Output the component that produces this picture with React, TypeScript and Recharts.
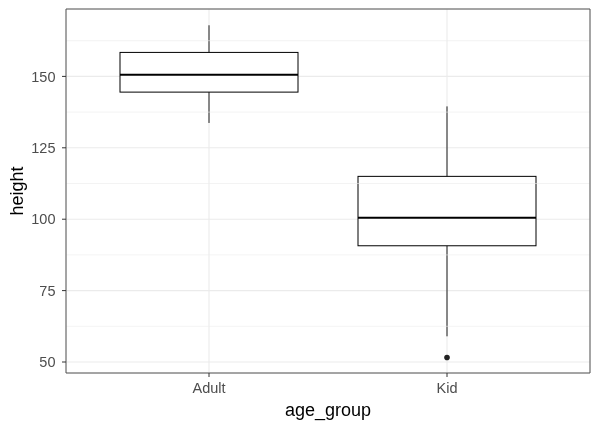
import { ComposedChart, Bar, XAxis, YAxis, CartesianGrid, ReferenceLine, Label } from 'recharts'

// box statistics per age group
const categories = ['Adult', 'Kid']
const lowerWhisker = [133.7, 59.0]
const q1 = [144.5, 90.7]
const median = [150.6, 100.5]
const q3 = [158.4, 115.0]
const upperWhisker = [167.9, 139.5]
const outliers: number[][] = [[], [51.6]]

const yTicks = [50, 75, 100, 125, 150]
const yMinor = [62.5, 87.5, 112.5, 137.5, 162.5]
const yDomain = [46.15, 173.6]

const data = categories.map((c, i) => {
  const lo = Math.min(lowerWhisker[i], ...outliers[i])
  const hi = Math.max(upperWhisker[i], ...outliers[i])
  return {
    age_group: c,
    range: [lo, hi],
    lo,
    hi,
    lower: lowerWhisker[i],
    q1: q1[i],
    median: median[i],
    q3: q3[i],
    upper: upperWhisker[i],
    outliers: outliers[i],
  }
})

const BoxShape = (props: any) => {
  const { x, y, width, height, payload } = props
  const top = Math.min(y, y + height)
  const bottom = Math.max(y, y + height)
  const { lo, hi } = payload
  // map a value into pixels using the bar's own scaled extent
  const py = (v: number) => bottom - ((v - lo) / (hi - lo)) * (bottom - top)
  const cx = x + width / 2
  return (
    <g>
      <line x1={cx} x2={cx} y1={py(payload.q3)} y2={py(payload.upper)} stroke="#1a1a1a" strokeWidth={1} />
      <line x1={cx} x2={cx} y1={py(payload.q1)} y2={py(payload.lower)} stroke="#1a1a1a" strokeWidth={1} />
      <rect
        x={x}
        y={py(payload.q3)}
        width={width}
        height={py(payload.q1) - py(payload.q3)}
        fill="#fff"
        stroke="#000"
        strokeWidth={1}
      />
      <line x1={x} x2={x + width} y1={py(payload.median)} y2={py(payload.median)} stroke="#000" strokeWidth={2} />
      {payload.outliers.map((o: number, i: number) => (
        <circle key={i} cx={cx} cy={py(o)} r={2.8} fill="#222" />
      ))}
    </g>
  )
}

const YTitle = (props: any) => {
  const { viewBox } = props
  const cx = viewBox.x + 17
  const cy = viewBox.y + viewBox.height / 2
  return (
    <text
      x={cx}
      y={cy}
      transform={`rotate(-90, ${cx}, ${cy})`}
      textAnchor="middle"
      dominantBaseline="central"
      fill="#000"
      fontSize={18}
    >
      height
    </text>
  )
}

const tickStyle = { fill: '#4D4D4D', fontSize: 14.5 }
const border = { stroke: '#555', strokeWidth: 1 }

export default function App() {
  return (
    <div style={{ position: 'fixed', left: 0, top: 0, fontFamily: '"Liberation Sans", Arial, sans-serif' }}>
      <ComposedChart width={600} height={429} data={data} margin={{ top: 8, right: 9, left: 0, bottom: 0 }}>
        <CartesianGrid stroke="#EBEBEB" strokeWidth={1.1} />
        {yMinor.map((v) => (
          <ReferenceLine key={v} y={v} stroke="#EBEBEB" strokeWidth={0.6} />
        ))}
        <XAxis
          dataKey="age_group"
          padding={{ left: 24, right: 24 }}
          height={56}
          axisLine={border}
          tickSize={4}
          tickMargin={6}
          tickLine={{ stroke: '#333' }}
          tick={tickStyle}
        >
          <Label value="age_group" position="insideBottom" offset={13} fill="#000" fontSize={18} />
        </XAxis>
        {/* extra axes only draw the top and right edges of the panel border */}
        <XAxis xAxisId="top" orientation="top" dataKey="age_group" height={1} tick={false} tickLine={false} axisLine={border} />
        <YAxis
          type="number"
          domain={yDomain}
          ticks={yTicks}
          allowDataOverflow
          width={66}
          axisLine={border}
          tickSize={4}
          tickMargin={6.5}
          tickLine={{ stroke: '#333' }}
          tick={tickStyle}
        >
          <Label content={YTitle} />
        </YAxis>
        <YAxis
          yAxisId="right"
          orientation="right"
          type="number"
          domain={yDomain}
          allowDataOverflow
          width={1}
          tick={false}
          tickLine={false}
          axisLine={border}
        />
        <Bar dataKey="range" barSize={178} isAnimationActive={false} shape={BoxShape} />
      </ComposedChart>
    </div>
  )
}
